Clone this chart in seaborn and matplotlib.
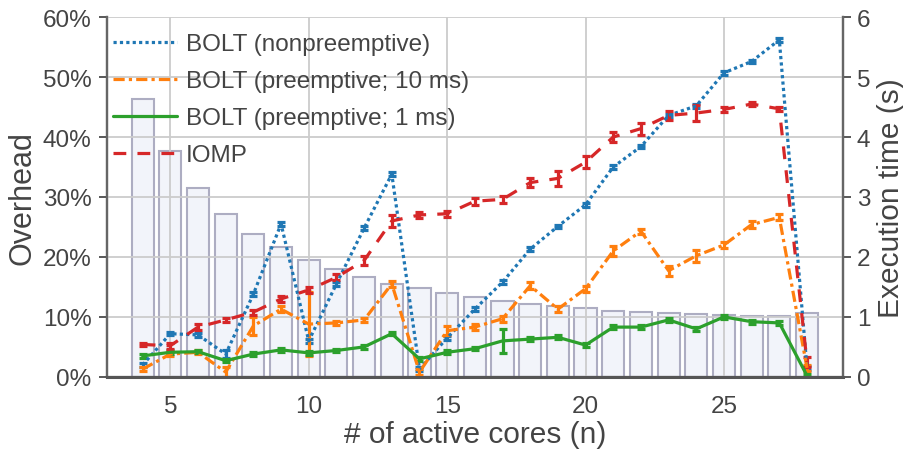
"""Overhead (%) et temps d'exécution selon le nombre de cœurs actifs."""

import matplotlib
matplotlib.use("Agg")
import matplotlib.pyplot as plt
from matplotlib.lines import Line2D
from matplotlib.ticker import FuncFormatter, MultipleLocator
import seaborn as sns

# --- données --------------------------------------------------------------
cores = list(range(4, 29))

exec_time = [4.63, 3.77, 3.15, 2.72, 2.38, 2.16, 1.95, 1.80, 1.67, 1.55,
             1.48, 1.40, 1.34, 1.27, 1.22, 1.19, 1.15, 1.10, 1.08, 1.06,
             1.05, 1.04, 1.02, 1.02, 1.06]

bolt_nonpre = [2.0, 7.2, 7.0, 3.8, 13.8, 25.5, 6.0, 15.5, 24.8, 33.8,
               1.3, 6.5, 11.3, 15.8, 21.3, 25.1, 28.7, 35.0, 38.4, 43.6,
               45.2, 50.7, 52.6, 56.2, 1.5]
bolt_nonpre_err = [0.3, 0.3, 0.3, 0.6, 0.3, 0.3, 0.3, 0.3, 0.3, 0.3,
                   0.3, 0.3, 0.3, 0.3, 0.3, 0.3, 0.3, 0.3, 0.3, 0.3,
                   0.3, 0.3, 0.3, 0.3, 0.3]

bolt_10ms = [1.3, 3.8, 4.1, 0.8, 8.5, 11.3, 8.8, 9.0, 9.5, 15.5,
             0.8, 7.7, 8.3, 9.7, 15.2, 11.3, 14.7, 21.0, 24.3, 17.7,
             20.2, 22.0, 25.4, 26.6, 1.5]
bolt_10ms_err = [0.3, 0.3, 0.3, 0.8, 1.5, 0.5, 5.3, 0.3, 0.3, 0.5,
                 0.5, 0.8, 0.5, 0.5, 0.6, 0.5, 0.5, 0.8, 0.4, 0.8,
                 1.0, 0.5, 0.6, 0.5, 0.5]

bolt_1ms = [3.5, 4.1, 4.2, 2.7, 3.8, 4.5, 4.0, 4.4, 5.0, 7.2,
            3.0, 4.1, 4.7, 6.0, 6.3, 6.6, 5.3, 8.3, 8.3, 9.5,
            8.0, 10.0, 9.2, 9.0, 0.2]
bolt_1ms_err = [0.3, 0.3, 0.3, 0.3, 0.3, 0.3, 0.3, 0.3, 0.3, 0.3,
                0.3, 0.3, 0.3, 2.0, 0.3, 0.3, 0.3, 0.3, 0.3, 0.4,
                0.3, 0.3, 0.3, 0.3, 0.3]

iomp = [5.4, 5.2, 8.3, 9.5, 10.8, 13.0, 14.5, 16.6, 19.4, 26.0,
        27.0, 27.2, 29.3, 29.6, 32.4, 33.1, 35.8, 40.0, 41.4, 43.6,
        44.0, 44.6, 45.5, 44.7, 2.5]
iomp_err = [0.3, 0.5, 0.5, 0.4, 0.4, 0.5, 0.5, 0.5, 0.7, 1.0,
            0.5, 0.5, 0.6, 0.6, 0.8, 1.2, 1.0, 0.9, 1.0, 0.8,
            1.3, 0.4, 0.4, 0.3, 0.8]

GRIS = "#444444"

sns.set_theme(style="whitegrid")
plt.rcParams["font.family"] = ["Liberation Sans", "DejaVu Sans"]
plt.rcParams["text.color"] = GRIS
plt.rcParams["axes.labelcolor"] = GRIS
plt.rcParams["xtick.color"] = GRIS
plt.rcParams["ytick.color"] = GRIS

fig = plt.figure(figsize=(9.04, 4.52), dpi=100)
ax = fig.add_axes([0.118, 0.164, 0.8145, 0.796])
ax2 = ax.twinx()

# barres : temps d'exécution (axe de droite), derrière les courbes
sns.barplot(x=cores, y=exec_time, native_scale=True, ax=ax2, width=0.8,
            color="#f1f4fb", edgecolor="#adadc2", linewidth=1.5,
            errorbar=None)
ax.set_zorder(ax2.get_zorder() + 1)
ax.patch.set_visible(False)
ax2.grid(False)

series = [
    ("BOLT (nonpreemptive)", bolt_nonpre, bolt_nonpre_err, "tab:blue", (0, (1, 1))),
    ("BOLT (preemptive; 10 ms)", bolt_10ms, bolt_10ms_err, "tab:orange",
     (0, (3.5, 1.3, 1, 1.3))),
    ("BOLT (preemptive; 1 ms)", bolt_1ms, bolt_1ms_err, "tab:green", "-"),
    ("IOMP", iomp, iomp_err, "tab:red", (0, (4, 3.5))),
]
handles = []
for label, val, err, col, ls in series:
    ax.errorbar(cores, val, yerr=err, color=col, ls=ls, lw=2.3,
                capsize=3, capthick=2.3, elinewidth=2.3)
    handles.append(Line2D([], [], color=col, ls=ls, lw=2.3, label=label))

ax.set_xlim(2.7, 29.3)
ax.set_ylim(0, 60)
ax2.set_ylim(0, 6)
ax.xaxis.set_major_locator(MultipleLocator(5))
ax.yaxis.set_major_locator(MultipleLocator(10))
ax2.yaxis.set_major_locator(MultipleLocator(1))
ax.yaxis.set_major_formatter(FuncFormatter(lambda v, _: f"{v:.0f}%"))

ax.grid(True, color="#cccccc", lw=1.3)
ax.tick_params(axis="both", labelsize=17.5)
ax.tick_params(axis="x", pad=7)
ax.tick_params(axis="y", pad=5)
ax2.tick_params(axis="y", labelsize=17.5, pad=4)

ax.set_xlabel("# of active cores (n)", fontsize=21.5, labelpad=2)
ax.set_ylabel("Overhead", fontsize=22, labelpad=4)
ax2.set_ylabel("Execution time (s)", fontsize=21.5, labelpad=5)

for a in (ax, ax2):
    a.spines["top"].set_visible(False)
    for s in ("left", "right", "bottom"):
        a.spines[s].set_color("#666666")
        a.spines[s].set_linewidth(1.6)
ax.spines["bottom"].set_color("#555555")
ax.spines["bottom"].set_linewidth(2.2)

ax.legend(handles=handles, loc="upper left", bbox_to_anchor=(0.0, 0.972),
          frameon=False, fontsize=17.5, handlelength=2.65, handletextpad=0.35,
          labelspacing=0.62, borderaxespad=0.0, borderpad=0.25)

fig.savefig("out.png", dpi=100)
plt.close(fig)
